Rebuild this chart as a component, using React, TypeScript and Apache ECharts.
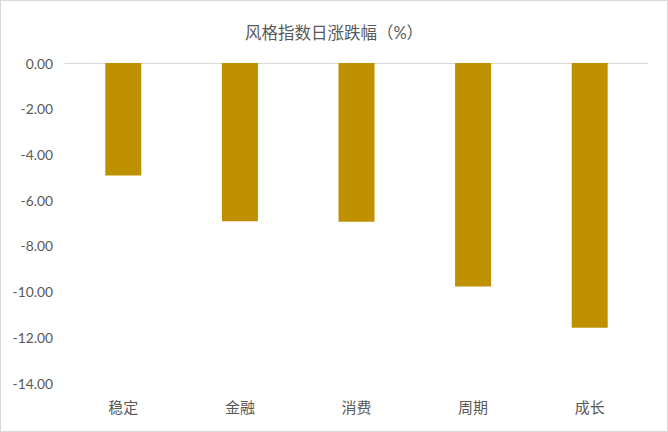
import React, { useEffect, useRef } from "react";
import * as echarts from "echarts";

const categories = ["稳定", "金融", "消费", "周期", "成长"];
const values = [-4.92, -6.92, -6.94, -9.78, -11.58];
const titleText = "风格指数日涨跌幅（%）";

export default function App() {
  const ref = useRef<HTMLDivElement>(null);
  useEffect(() => {
    document.body.style.margin = "0";
    const chart = echarts.init(ref.current!, null, { renderer: "svg" });
    const font = "Lato, 'Noto Sans CJK SC', sans-serif";
    chart.setOption({
      animation: false,
      backgroundColor: "#ffffff",
      title: {
        text: titleText,
        left: "center",
        top: 19,
        textStyle: { fontSize: 16.5, fontWeight: "normal", color: "#595959", fontFamily: font },
      },
      grid: { left: 64, right: 19, top: 62, bottom: 48 },
      xAxis: [
        {
          type: "category",
          data: categories,
          position: "bottom",
          axisLine: { show: false, onZero: false },
          axisTick: { show: false },
          axisLabel: { color: "#595959", fontSize: 15, margin: 16, fontFamily: font },
        },
        {
          type: "category",
          data: categories,
          position: "top",
          axisLine: { show: true, onZero: false, lineStyle: { color: "#d9d9d9", width: 1 } },
          axisTick: { show: false },
          axisLabel: { show: false },
        },
      ],
      yAxis: {
        type: "value",
        min: -14,
        max: 0,
        interval: 2,
        axisLine: { show: false },
        axisTick: { show: false },
        splitLine: { show: false },
        axisLabel: {
          color: "#595959",
          fontSize: 13.8,
          margin: 12,
          fontFamily: font,
          formatter: (v: number) => v.toFixed(2),
        },
      },
      series: [
        {
          type: "bar",
          data: values,
          barWidth: 36,
          itemStyle: { color: "#BF9000" },
        },
      ],
    });
    return () => chart.dispose();
  }, []);
  return (
    <div
      style={{
        position: "fixed",
        left: 0,
        top: 0,
        width: 668,
        height: 432,
        border: "1px solid #d9d9d9",
        boxSizing: "border-box",
        background: "#fff",
      }}
    >
      <div ref={ref} style={{ width: 666, height: 430 }} />
    </div>
  );
}
